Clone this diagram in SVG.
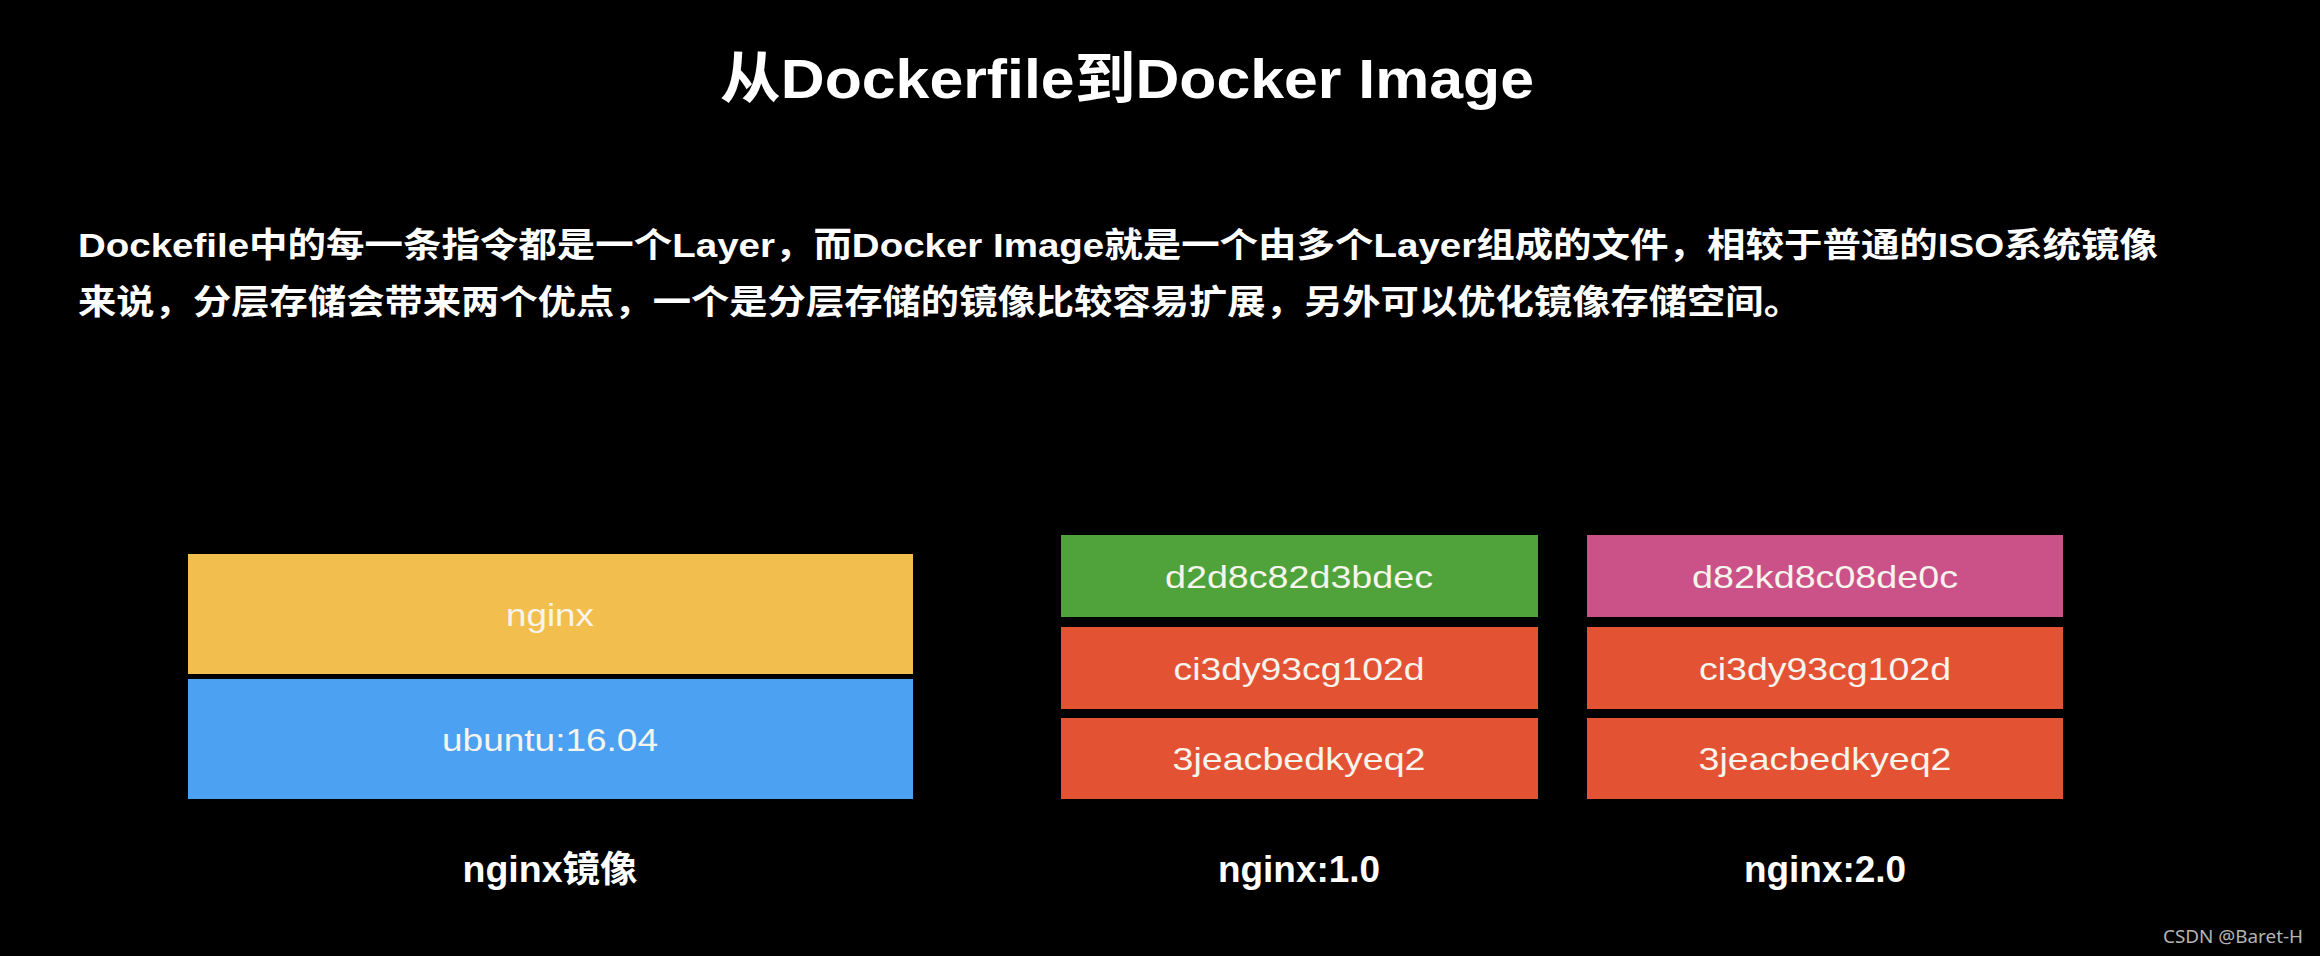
<svg xmlns="http://www.w3.org/2000/svg" width="2320" height="956" viewBox="0 0 2320 956">
<style>
.bg{fill:#000}
.title{font-family:"Liberation Sans","Noto Sans CJK SC",sans-serif;font-weight:bold;font-size:56px;fill:#fff}
.para{font-family:"Liberation Sans","Noto Sans CJK SC",sans-serif;font-weight:bold;font-size:34px;fill:#fff}
.lbl{font-family:"Liberation Sans","Noto Sans CJK SC",sans-serif;font-weight:bold;font-size:36px;fill:#fff;text-anchor:middle}
.layer{font-family:"Liberation Sans",sans-serif;font-size:32px;fill:#f6f4ec;text-anchor:middle}
.wm{font-family:"Noto Sans","DejaVu Sans",sans-serif;font-size:18px;fill:#b4b4b4}
.yel{fill:#F2BF4E}
.blu{fill:#4CA1F3}
.grn{fill:#4FA33A}
.red{fill:#E45234}
.pnk{fill:#CB5288}
</style>
<rect class="bg" x="0" y="0" width="2320" height="956"/>
<g id="title">
<text class="title" x="720" y="98" textLength="814" lengthAdjust="spacingAndGlyphs">从Dockerfile到Docker Image</text>
</g>
<g id="description">
<text class="para" x="78" y="257" textLength="2080" lengthAdjust="spacingAndGlyphs">Dockefile中的每一条指令都是一个Layer，而Docker Image就是一个由多个Layer组成的文件，相较于普通的ISO系统镜像</text>
<text class="para" x="78" y="314" textLength="1724" lengthAdjust="spacingAndGlyphs">来说，分层存储会带来两个优点，一个是分层存储的镜像比较容易扩展，另外可以优化镜像存储空间。</text>
</g>
<g id="nginx-image">
<g id="layer-nginx">
<rect class="yel" x="188" y="554" width="725" height="120"/>
<text class="layer" x="550" y="626" textLength="88" lengthAdjust="spacingAndGlyphs">nginx</text>
</g>
<g id="layer-ubuntu">
<rect class="blu" x="188" y="679" width="725" height="120"/>
<text class="layer" x="550" y="751" textLength="216" lengthAdjust="spacingAndGlyphs">ubuntu:16.04</text>
</g>
<text class="lbl" x="550" y="882" textLength="175" lengthAdjust="spacingAndGlyphs">nginx镜像</text>
</g>
<g id="nginx-1">
<g id="n1-top">
<rect class="grn" x="1061" y="535" width="477" height="82"/>
<text class="layer" x="1299" y="588" textLength="268" lengthAdjust="spacingAndGlyphs">d2d8c82d3bdec</text>
</g>
<g id="n1-mid">
<rect class="red" x="1061" y="627" width="477" height="82"/>
<text class="layer" x="1299" y="680" textLength="251" lengthAdjust="spacingAndGlyphs">ci3dy93cg102d</text>
</g>
<g id="n1-base">
<rect class="red" x="1061" y="718" width="477" height="81"/>
<text class="layer" x="1299" y="770" textLength="253" lengthAdjust="spacingAndGlyphs">3jeacbedkyeq2</text>
</g>
<text class="lbl" x="1299" y="882" textLength="162" lengthAdjust="spacingAndGlyphs">nginx:1.0</text>
</g>
<g id="nginx-2">
<g id="n2-top">
<rect class="pnk" x="1587" y="535" width="476" height="82"/>
<text class="layer" x="1825" y="588" textLength="266" lengthAdjust="spacingAndGlyphs">d82kd8c08de0c</text>
</g>
<g id="n2-mid">
<rect class="red" x="1587" y="627" width="476" height="82"/>
<text class="layer" x="1825" y="680" textLength="252" lengthAdjust="spacingAndGlyphs">ci3dy93cg102d</text>
</g>
<g id="n2-base">
<rect class="red" x="1587" y="718" width="476" height="81"/>
<text class="layer" x="1825" y="770" textLength="253" lengthAdjust="spacingAndGlyphs">3jeacbedkyeq2</text>
</g>
<text class="lbl" x="1825" y="882" textLength="162" lengthAdjust="spacingAndGlyphs">nginx:2.0</text>
</g>
<g id="connectors"></g>
<text class="wm" x="2163" y="943" textLength="140" lengthAdjust="spacingAndGlyphs">CSDN @Baret-H</text>
</svg>
